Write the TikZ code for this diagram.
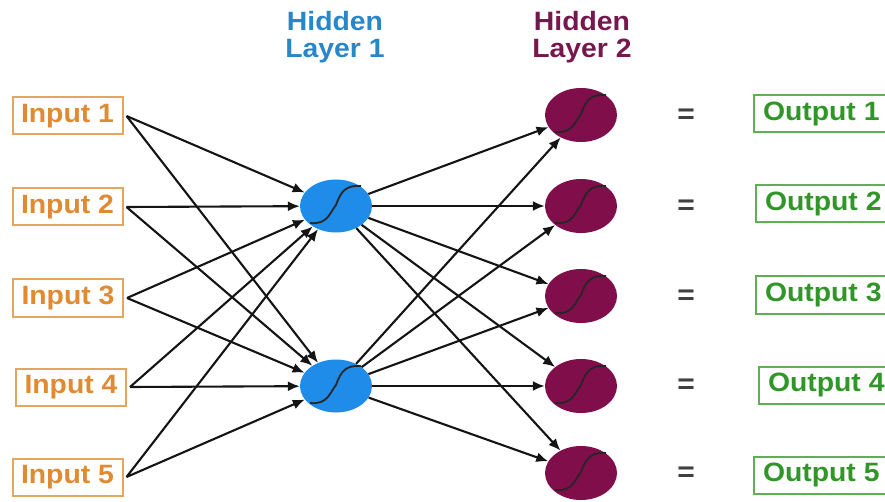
\documentclass[tikz,border=0pt]{standalone}
\usepackage{fontspec}
\setmainfont[FakeStretch=1.07]{Liberation Sans}
\usetikzlibrary{shapes.geometric,arrows.meta}
\definecolor{inorange}{RGB}{224,138,50}
\definecolor{inborder}{RGB}{228,165,95}
\definecolor{outgreen}{RGB}{48,150,40}
\definecolor{outborder}{RGB}{95,175,85}
\definecolor{hblue}{RGB}{30,140,232}
\definecolor{hbluetext}{RGB}{40,135,200}
\definecolor{hmaroon}{RGB}{128,14,74}
\definecolor{hmaroontext}{RGB}{118,24,78}
\definecolor{edgecol}{RGB}{20,20,20}
\tikzset{
  bigfont/.style={font=\fontsize{26.5}{31}\selectfont\bfseries},
  inbox/.style={draw=inborder, line width=2pt, text=inorange, bigfont,
    minimum width=110pt, minimum height=37pt, inner sep=0pt, outer xsep=4pt},
  outbox/.style={draw=outborder, line width=2pt, text=outgreen, bigfont,
    anchor=west, inner xsep=9pt, minimum height=37pt, inner ysep=0pt},
  hone/.style={ellipse, fill=hblue, minimum width=72pt, minimum height=53pt, inner sep=0pt},
  htwo/.style={ellipse, fill=hmaroon, minimum width=72pt, minimum height=54pt, inner sep=0pt},
  title/.style={bigfont, align=center, text depth=0pt},
  eqsign/.style={font=\fontsize{28}{30}\selectfont\bfseries, text=black!75},
  conn/.style={draw=edgecol, line width=2.1pt, -{Latex[length=12pt,width=10pt]}},
  sig/.style={line width=1.8pt, draw=black!85},
}
\begin{document}
\begin{tikzpicture}[x=1pt,y=-1pt]
\useasboundingbox (0,0) rectangle (885,502);
\fill[white] (0,0) rectangle (885,502);
% titles
\node[title, text=hbluetext] (t1) at (335,34) {Hidden\\[-4pt]Layer 1};
\node[title, text=hmaroontext] (t2) at (582,34) {Hidden\\[-4pt]Layer 2};
% inputs
\node[inbox] (i1) at (67.5,116) {Input 1};
\node[inbox] (i2) at (67.5,207) {Input 2};
\node[inbox] (i3) at (68,298) {Input 3};
\node[inbox] (i4) at (71,387) {Input 4};
\node[inbox] (i5) at (67.5,477) {Input 5};
% hidden layer 1
\node[hone] (a1) at (336,206) {};
\node[hone] (a2) at (336,386) {};
% hidden layer 2
\node[htwo] (b1) at (581,115) {};
\node[htwo] (b2) at (581,206) {};
\node[htwo] (b3) at (581,296) {};
\node[htwo] (b4) at (581,386) {};
\node[htwo] (b5) at (581,473) {};
% equals
\foreach \k/\y in {1/116,2/207,3/297,4/386,5/474}
  \node[eqsign] (e\k) at (686,\y) {=};
% outputs
\node[outbox] (o1) at (753,114) {Output 1};
\node[outbox] (o2) at (755,204) {Output 2};
\node[outbox] (o3) at (755,295) {Output 3};
\node[outbox] (o4) at (758,385) {Output 4};
\node[outbox] (o5) at (753,475) {Output 5};
% connectors input -> hidden 1
\foreach \i in {1,...,5}{
  \draw[conn] (i\i.east) -- (a1);
  \draw[conn] (i\i.east) -- (a2);
}
% connectors hidden 1 -> hidden 2
\foreach \j in {1,...,5}{
  \draw[conn] (a1) -- (b\j);
  \draw[conn] (a2) -- (b\j);
}
% sigmoid curves
\foreach \n in {a1,a2,b1,b2,b3,b4,b5}{
  \draw[sig] ([shift={(-26,17)}]\n.center) .. controls ([shift={(-8,19)}]\n.center) and ([shift={(-6,6)}]\n.center) .. ([shift={(0,-1)}]\n.center)
    .. controls ([shift={(5,-15)}]\n.center) and ([shift={(10,-21)}]\n.center) .. ([shift={(25,-20)}]\n.center);
}
\end{tikzpicture}
\end{document}
